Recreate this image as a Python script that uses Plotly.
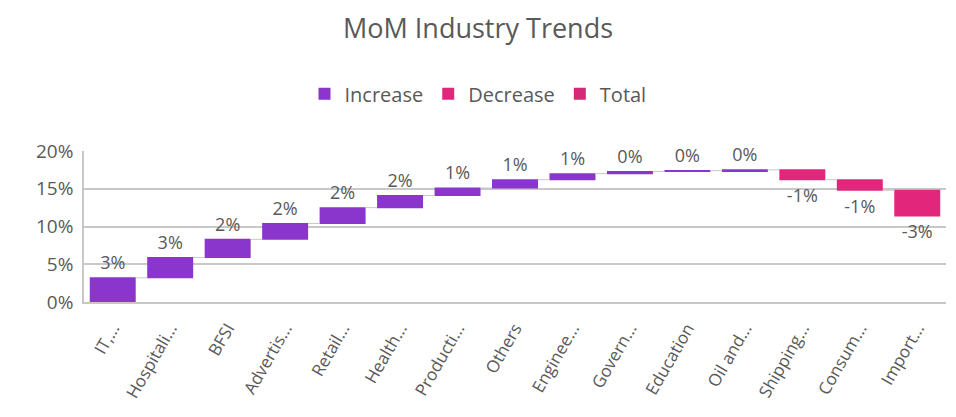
import plotly.graph_objects as go

industries = [
    "IT,...", "Hospitali...", "BFSI", "Advertis...", "Retail...", "Health...",
    "Producti...", "Others", "Enginee...", "Govern...", "Education", "Oil and...",
    "Shipping...", "Consum...", "Import...",
]
mom_change = [
    0.032, 0.027, 0.024, 0.021, 0.021, 0.016,
    0.010, 0.011, 0.008, 0.003, 0.001, 0.001,
    -0.013, -0.014, -0.034,
]
legend_names = ["Increase", "Decrease", "Total"]

PURPLE = "#8a35cc"
PINK = "#e2267c"
TOTAL = "#d62878"
GREY = "#595959"
LINE = "#c8c8c8"

fig = go.Figure()

fig.add_trace(
    go.Waterfall(
        x=industries,
        y=mom_change,
        measure=["relative"] * len(mom_change),
        increasing=dict(marker=dict(color=PURPLE)),
        decreasing=dict(marker=dict(color=PINK)),
        totals=dict(marker=dict(color=TOTAL)),
        connector=dict(line=dict(color=LINE, width=1)),
        texttemplate="%{delta:.0%}",
        textposition="outside",
        textfont=dict(size=18, color=GREY),
        cliponaxis=False,
        showlegend=False,
    )
)

# legend-only swatches, one per Excel waterfall series
for name, color in zip(legend_names, [PURPLE, PINK, TOTAL]):
    fig.add_trace(
        go.Scatter(
            x=[None],
            y=[None],
            mode="markers",
            name=name,
            marker=dict(symbol="square", size=20, color=color),
        )
    )

# the page body has an 8px margin, so the figure is sized to fit inside it
fig.update_layout(
    width=940,
    height=401,
    paper_bgcolor="white",
    plot_bgcolor="white",
    font=dict(family="Open Sans, Noto Sans, sans-serif", color=GREY),
    title=dict(
        text="MoM Industry Trends",
        x=0.5,
        xanchor="center",
        yref="container",
        y=0.948,
        yanchor="middle",
        font=dict(size=27, color=GREY),
    ),
    legend=dict(
        orientation="h",
        xref="container",
        x=0.5,
        xanchor="center",
        yref="container",
        y=0.786,
        yanchor="middle",
        font=dict(size=20, color=GREY),
        itemsizing="constant",
    ),
    margin=dict(l=76, r=2, t=143, b=107, autoexpand=False),
    bargap=0.3,
)

fig.update_yaxes(
    range=[0, 0.2],
    dtick=0.05,
    tickformat=".0%",
    showgrid=True,
    gridcolor=LINE,
    gridwidth=1.5,
    showline=True,
    linecolor=LINE,
    linewidth=1.5,
    zeroline=False,
    tickfont=dict(size=19, color=GREY),
    ticks="outside",
    ticklen=5,
    tickcolor="white",
    automargin=False,
)
fig.update_xaxes(
    tickangle=-60,
    tickfont=dict(size=17, color=GREY),
    showline=True,
    linecolor=LINE,
    linewidth=1.5,
    showgrid=False,
    ticks="outside",
    ticklen=8,
    tickcolor="white",
    automargin=False,
)

fig.write_html("out.html")
